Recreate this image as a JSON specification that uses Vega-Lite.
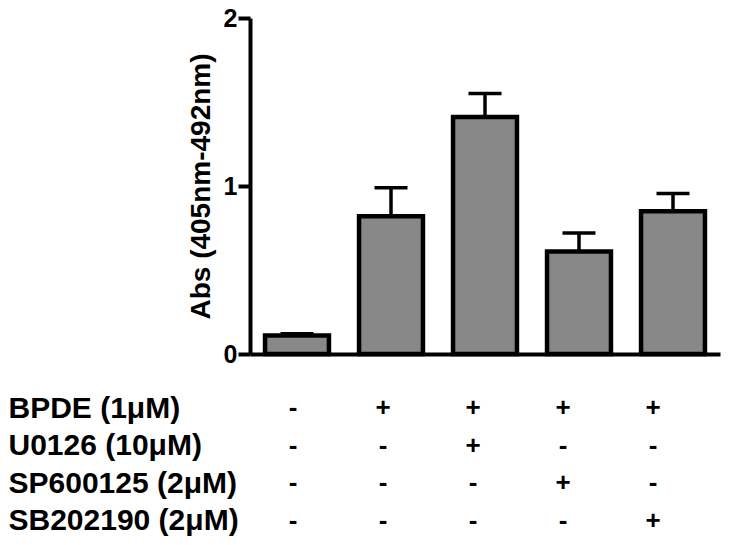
{
  "$schema": "https://vega.github.io/schema/vega-lite/v6.json",
  "padding": {"left": 8, "top": 6, "right": 5, "bottom": 0},
  "background": "white",
  "config": {
    "view": {"stroke": null},
    "font": "Liberation Sans",
    "concat": {"spacing": 20}
  },
  "datasets": {
    "bars": [
      {"group": "1", "mean": 0.11, "upper": 0.12},
      {"group": "2", "mean": 0.82, "upper": 0.99},
      {"group": "3", "mean": 1.41, "upper": 1.55},
      {"group": "4", "mean": 0.61, "upper": 0.72},
      {"group": "5", "mean": 0.85, "upper": 0.955}
    ],
    "table": [
      {"group": "1", "treatment": "BPDE (1μM)", "sign": "-"},
      {"group": "2", "treatment": "BPDE (1μM)", "sign": "+"},
      {"group": "3", "treatment": "BPDE (1μM)", "sign": "+"},
      {"group": "4", "treatment": "BPDE (1μM)", "sign": "+"},
      {"group": "5", "treatment": "BPDE (1μM)", "sign": "+"},
      {"group": "1", "treatment": "U0126 (10μM)", "sign": "-"},
      {"group": "2", "treatment": "U0126 (10μM)", "sign": "-"},
      {"group": "3", "treatment": "U0126 (10μM)", "sign": "+"},
      {"group": "4", "treatment": "U0126 (10μM)", "sign": "-"},
      {"group": "5", "treatment": "U0126 (10μM)", "sign": "-"},
      {"group": "1", "treatment": "SP600125 (2μM)", "sign": "-"},
      {"group": "2", "treatment": "SP600125 (2μM)", "sign": "-"},
      {"group": "3", "treatment": "SP600125 (2μM)", "sign": "-"},
      {"group": "4", "treatment": "SP600125 (2μM)", "sign": "+"},
      {"group": "5", "treatment": "SP600125 (2μM)", "sign": "-"},
      {"group": "1", "treatment": "SB202190 (2μM)", "sign": "-"},
      {"group": "2", "treatment": "SB202190 (2μM)", "sign": "-"},
      {"group": "3", "treatment": "SB202190 (2μM)", "sign": "-"},
      {"group": "4", "treatment": "SB202190 (2μM)", "sign": "-"},
      {"group": "5", "treatment": "SB202190 (2μM)", "sign": "+"}
    ]
  },
  "vconcat": [
    {
      "width": 470,
      "height": 336,
      "data": {"name": "bars"},
      "encoding": {
        "x": {
          "field": "group", "type": "nominal", "sort": null,
          "scale": {"paddingInner": 0.32, "paddingOuter": 0.16},
          "axis": {"labels": false, "ticks": false, "title": null, "domainColor": "black", "domainWidth": 4}
        },
        "y": {
          "field": "mean", "type": "quantitative",
          "scale": {"domain": [0, 2]},
          "axis": {
            "tickCount": 2, "tickMinStep": 1, "title": "Abs (405nm-492nm)",
            "ticks": true, "tickColor": "black", "tickOpacity": 1, "tickWidth": 4, "tickSize": 12, "labelOverlap": false,
            "labelFontSize": 25, "labelFontWeight": "bold", "labelColor": "black", "labelPadding": 1, "labelFlush": false,
            "domainColor": "black", "domainWidth": 4, "grid": false,
            "titleFontSize": 28, "titleFontWeight": "bold", "titleColor": "black", "titlePadding": 8
          }
        }
      },
      "layer": [
        {
          "mark": {"type": "rule", "strokeWidth": 3.5, "color": "black"},
          "encoding": {"y2": {"field": "upper"}}
        },
        {
          "mark": {"type": "tick", "thickness": 3.5, "size": 33, "color": "black", "opacity": 1},
          "encoding": {"y": {"field": "upper", "type": "quantitative"}}
        },
        {
          "mark": {"type": "bar", "fill": "#888888", "stroke": "black", "strokeWidth": 4.5, "opacity": 1}
        }
      ]
    },
    {
      "width": 446,
      "height": 155,
      "data": {"name": "table"},
      "mark": {"type": "text", "fontSize": 26, "fontWeight": "bold", "color": "black"},
      "encoding": {
        "x": {"field": "group", "type": "nominal", "sort": null, "scale": {"type": "point", "padding": 0.478}, "axis": null},
        "y": {
          "field": "treatment", "type": "nominal",
          "sort": ["BPDE (1μM)", "U0126 (10μM)", "SP600125 (2μM)", "SB202190 (2μM)"],
          "scale": {"type": "point", "padding": 0.56},
          "axis": {
            "title": null, "domain": false, "ticks": false, "tickSize": 0, "labelLimit": 400,
            "labelAlign": "left", "labelPadding": 242, "labelFontSize": 30, "labelFontWeight": "bold", "labelColor": "black"
          }
        },
        "text": {"field": "sign"}
      }
    }
  ]
}
